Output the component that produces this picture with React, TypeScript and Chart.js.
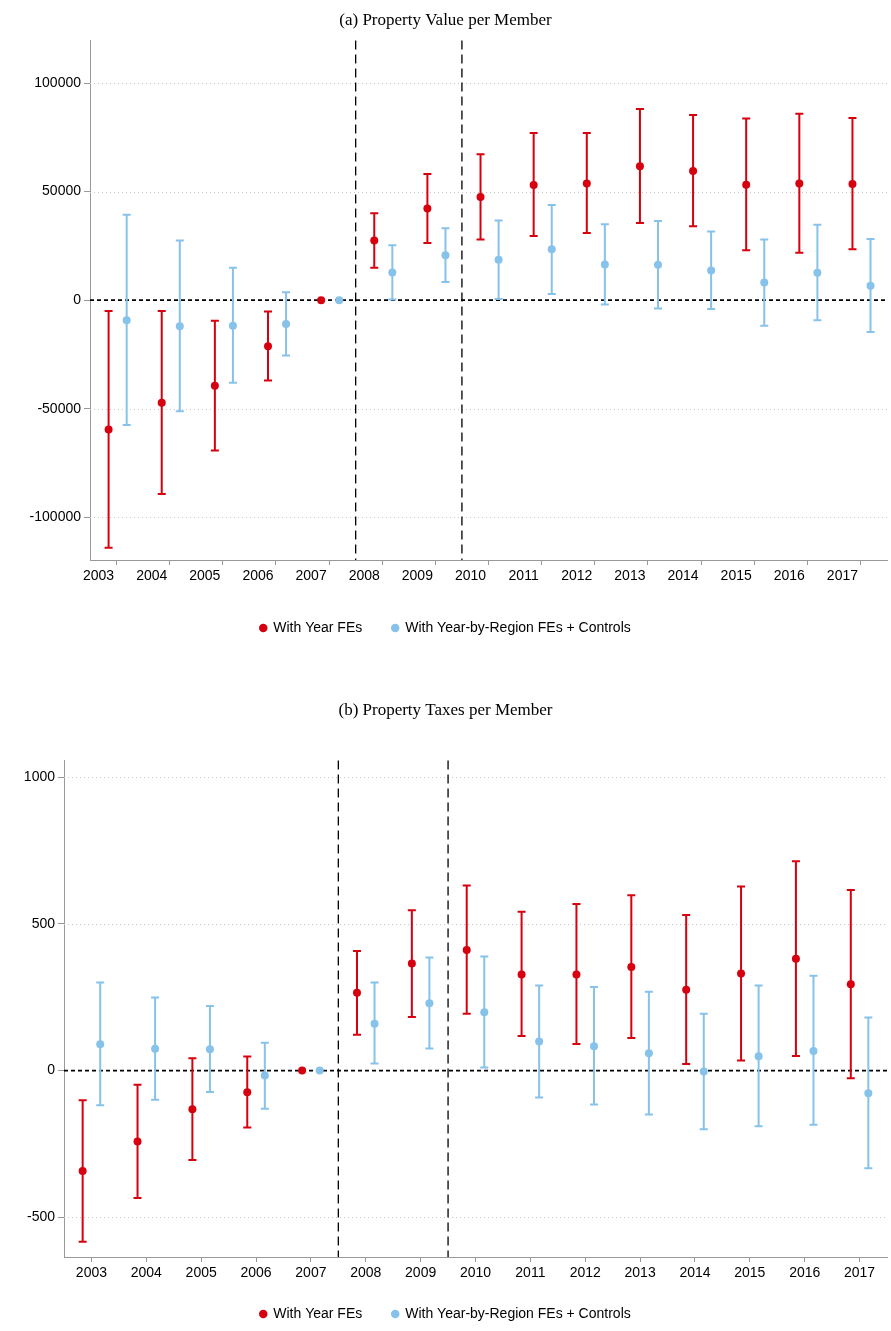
import React, { useEffect, useRef } from "react";
import { Chart, registerables } from "chart.js";
Chart.register(...registerables);

const years = [2003, 2004, 2005, 2006, 2007, 2008, 2009, 2010, 2011, 2012, 2013, 2014, 2015, 2016, 2017];

const valRedPt = [-59500, -47200, -39400, -21200, 0, 27500, 42200, 47500, 53000, 53800, 61700, 59500, 53200, 53700, 53500];
const valRedLo = [-114000, -89300, -69200, -37000, 0, 14900, 26400, 28000, 29600, 31000, 35600, 34000, 23000, 21800, 23500];
const valRedHi = [-5000, -5000, -9500, -5200, 0, 40000, 58100, 67200, 77000, 77000, 88000, 85300, 83700, 85900, 83900];
const valBluePt = [-9200, -12000, -11800, -11000, 0, 12700, 20700, 18600, 23500, 16400, 16300, 13700, 8100, 12600, 6700];
const valBlueLo = [-57500, -51200, -38000, -25500, 0, 300, 8400, 500, 2900, -2000, -3800, -4100, -11800, -9200, -14600];
const valBlueHi = [39300, 27500, 14900, 3700, 0, 25300, 33100, 36700, 43900, 35000, 36500, 31600, 27900, 34700, 28200];

const taxRedPt = [-343, -242, -132, -74, 0, 265, 365, 411, 328, 328, 353, 276, 331, 381, 294];
const taxRedLo = [-584, -435, -305, -194, 0, 122, 183, 194, 118, 91, 111, 22, 34, 50, -26];
const taxRedHi = [-101, -48, 42, 48, 0, 408, 547, 631, 542, 568, 598, 531, 628, 714, 616];
const taxBluePt = [90, 74, 73, -17, 0, 160, 230, 199, 99, 83, 59, -3, 49, 67, -77];
const taxBlueLo = [-118, -100, -73, -130, 0, 24, 75, 10, -92, -116, -150, -200, -190, -185, -333];
const taxBlueHi = [300, 249, 220, 95, 0, 300, 386, 389, 290, 285, 269, 194, 290, 323, 181];

const valTicks = [-100000, -50000, 0, 50000, 100000];
const taxTicks = [-500, 0, 500, 1000];
const breaks = [2007.5, 2009.5];

const RED = "#d7000f";
const BLUE = "#86c2ea";
const FONT = "'Liberation Sans', Arial, sans-serif";

type Panel = {
  title: string;
  redPt: number[]; redLo: number[]; redHi: number[];
  bluePt: number[]; blueLo: number[]; blueHi: number[];
  yMin: number; yMax: number; yTicks: number[];
  yWidth: number; xHeight: number; titleBottom: number;
  labelOffset: number; redOff: number; blueOff: number;
};

function ChartPanel({ p, height }: { p: Panel; height: number }) {
  const ref = useRef<HTMLCanvasElement>(null);
  useEffect(() => {
    const mk = (pt: number[], lo: number[], hi: number[], off: number) =>
      years.map((y, i) => ({ x: y + off, y: pt[i], lo: lo[i], hi: hi[i] }));
    const overlay = {
      id: "overlay",
      beforeDatasetsDraw(chart: any) {
        const { ctx, chartArea: a, scales } = chart;
        const xs = scales.x, ys = scales.y;
        ctx.save();
        ctx.strokeStyle = "#c8c8c8";
        ctx.lineWidth = 1;
        ctx.setLineDash([1, 3]);
        p.yTicks.forEach((t) => {
          if (t === 0) return;
          const y = Math.round(ys.getPixelForValue(t)) + 0.5;
          ctx.beginPath(); ctx.moveTo(a.left, y); ctx.lineTo(a.right, y); ctx.stroke();
        });
        ctx.strokeStyle = "#000";
        ctx.lineWidth = 1.3;
        ctx.setLineDash([9, 5]);
        breaks.forEach((b) => {
          const x = xs.getPixelForValue(b);
          ctx.beginPath(); ctx.moveTo(x, a.top); ctx.lineTo(x, a.bottom); ctx.stroke();
        });
        ctx.lineWidth = 1.8;
        ctx.setLineDash([4, 3]);
        const y0 = ys.getPixelForValue(0);
        ctx.beginPath(); ctx.moveTo(a.left, y0); ctx.lineTo(a.right, y0); ctx.stroke();
        ctx.setLineDash([]);
        chart.data.datasets.forEach((ds: any) => {
          ctx.strokeStyle = ds.borderColor;
          ctx.lineWidth = 2;
          ds.data.forEach((d: any) => {
            if (d.lo === d.hi) return;
            const x = xs.getPixelForValue(d.x);
            const yl = ys.getPixelForValue(d.lo), yh = ys.getPixelForValue(d.hi);
            ctx.beginPath();
            ctx.moveTo(x, yl); ctx.lineTo(x, yh);
            ctx.moveTo(x - 4, yl); ctx.lineTo(x + 4, yl);
            ctx.moveTo(x - 4, yh); ctx.lineTo(x + 4, yh);
            ctx.stroke();
          });
        });
        ctx.restore();
      },
    };
    const chart = new Chart(ref.current!, {
      type: "scatter",
      data: {
        datasets: [
          { label: "With Year FEs", data: mk(p.redPt, p.redLo, p.redHi, p.redOff) as any, backgroundColor: RED, borderColor: RED, pointRadius: 4, pointBorderWidth: 0 },
          { label: "With Year-by-Region FEs + Controls", data: mk(p.bluePt, p.blueLo, p.blueHi, p.blueOff) as any, backgroundColor: BLUE, borderColor: BLUE, pointRadius: 4, pointBorderWidth: 0 },
        ],
      },
      options: {
        animation: false,
        responsive: false,
        layout: { padding: { left: 0, right: 0, top: 0, bottom: 0 } },
        plugins: {
          tooltip: { enabled: false },
          title: { display: true, text: p.title, color: "#000", font: { family: "'Liberation Serif', 'Times New Roman', serif", size: 17, weight: "normal" }, padding: { top: 10, bottom: p.titleBottom } },
          legend: {
            position: "bottom",
            labels: { usePointStyle: true, pointStyle: "circle", boxWidth: 6, boxHeight: 6, padding: 30, color: "#000", font: { family: FONT, size: 14 } },
          },
        },
        scales: {
          x: {
            type: "linear", min: 2002.5, max: 2017.5,
            afterBuildTicks: (s: any) => { s.ticks = years.map((v) => ({ value: v })); },
            afterFit: (s: any) => { s.height = p.xHeight; },
            ticks: { color: "#000", font: { family: FONT, size: 14 }, labelOffset: p.labelOffset, maxRotation: 0, autoSkip: false, callback: (v: any) => String(v) },
            grid: { drawOnChartArea: false, drawTicks: true, tickLength: 5, color: "#999" },
            border: { color: "#999" },
          },
          y: {
            min: p.yMin, max: p.yMax,
            afterBuildTicks: (s: any) => { s.ticks = p.yTicks.map((v) => ({ value: v })); },
            afterFit: (s: any) => { s.width = p.yWidth; },
            ticks: { color: "#000", font: { family: FONT, size: 14 }, callback: (v: any) => String(v) },
            grid: { drawOnChartArea: false, color: "#999", tickLength: 6 },
            border: { color: "#999" },
          },
        },
      },
      plugins: [overlay],
    } as any);
    return () => chart.destroy();
  }, []);
  return <canvas ref={ref} width={891} height={height} style={{ display: "block" }} />;
}

const panelA: Panel = {
  title: "(a) Property Value per Member",
  redPt: valRedPt, redLo: valRedLo, redHi: valRedHi,
  bluePt: valBluePt, blueLo: valBlueLo, blueHi: valBlueHi,
  yMin: -119650, yMax: 119650, yTicks: valTicks,
  yWidth: 90, xHeight: 31, titleBottom: 10, labelOffset: -18, redOff: -0.15, blueOff: 0.19,
};
const panelB: Panel = {
  title: "(b) Property Taxes per Member",
  redPt: taxRedPt, redLo: taxRedLo, redHi: taxRedHi,
  bluePt: taxBluePt, blueLo: taxBlueLo, blueHi: taxBlueHi,
  yMin: -636, yMax: 1058, yTicks: taxTicks,
  yWidth: 64, xHeight: 20, titleBottom: 40, labelOffset: 0, redOff: -0.16, blueOff: 0.16,
};

export default function App() {
  return (
    <div style={{ position: "absolute", left: 0, top: 0, width: 891, height: 1331, background: "#fff" }}>
      <div style={{ position: "absolute", left: 0, top: 0 }}><ChartPanel p={panelA} height={645} /></div>
      <div style={{ position: "absolute", left: 0, top: 690 }}><ChartPanel p={panelB} height={641} /></div>
    </div>
  );
}
